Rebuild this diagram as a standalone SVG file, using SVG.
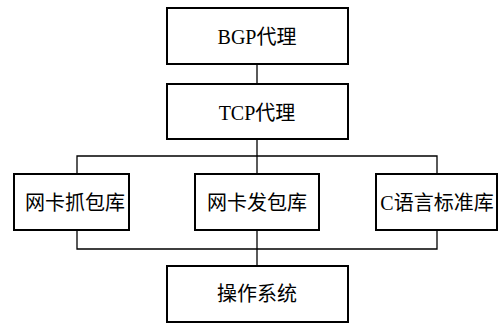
<svg xmlns="http://www.w3.org/2000/svg" width="498" height="323" viewBox="0 0 498 323">
<style>
.box{fill:#fff;stroke:#000;stroke-width:2}
.lbl{font-family:"Liberation Serif","Noto Sans CJK SC",serif;font-size:20px;text-anchor:middle;dominant-baseline:central;fill:#000}
.con{fill:none;stroke:#000;stroke-width:1.3}
</style>
<rect width="498" height="323" fill="#fff"/>
<g id="connectors">
<line class="con" x1="257" y1="64" x2="257" y2="84"/>
<line class="con" x1="257" y1="139" x2="257" y2="174"/>
<polyline class="con" points="77,174 77,156 437,156 437,174"/>
<polyline class="con" points="77,230 77,249 437,249 437,230"/>
<line class="con" x1="257" y1="230" x2="257" y2="266"/>
</g>
<g id="bgp"><rect class="box" x="167" y="8" width="181" height="56"/><text class="lbl" x="257" y="37">BGP代理</text></g>
<g id="tcp"><rect class="box" x="167" y="84" width="181" height="55"/><text class="lbl" x="257" y="113">TCP代理</text></g>
<g id="capture"><rect class="box" x="14" y="174" width="115" height="56"/><text class="lbl" x="75" y="203">网卡抓包库</text></g>
<g id="send"><rect class="box" x="195" y="174" width="124" height="56"/><text class="lbl" x="257" y="203">网卡发包库</text></g>
<g id="clib"><rect class="box" x="376" y="174" width="121" height="56"/><text class="lbl" x="437" y="203">C语言标准库</text></g>
<g id="os"><rect class="box" x="167" y="266" width="181" height="56"/><text class="lbl" x="257" y="294">操作系统</text></g>
</svg>
